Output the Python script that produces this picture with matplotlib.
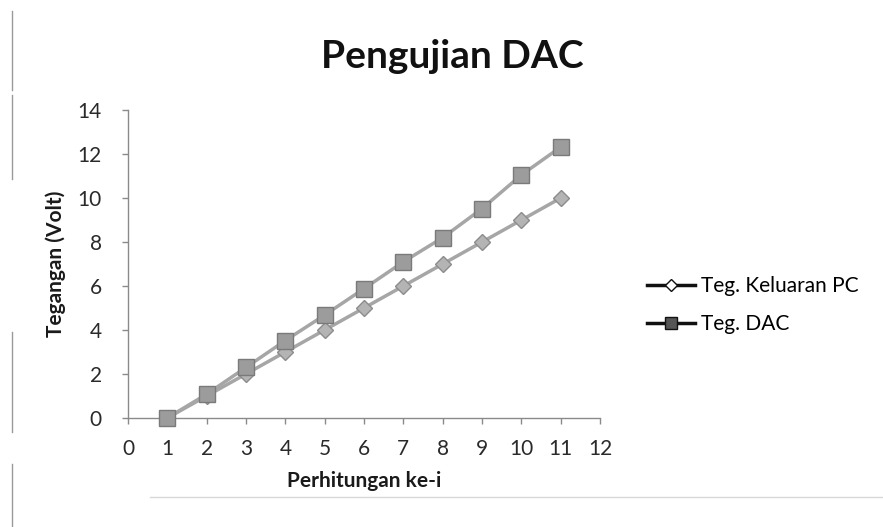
import matplotlib
matplotlib.use("Agg")
import matplotlib.pyplot as plt
from matplotlib.lines import Line2D

plt.rcParams['font.family'] = ['Lato', 'DejaVu Sans']

# measurement data
step = [1, 2, 3, 4, 5, 6, 7, 8, 9, 10, 11]
teg_pc = [0, 1, 2, 3, 4, 5, 6, 7, 8, 9, 10]
teg_dac = [0, 1.08, 2.3, 3.52, 4.68, 5.88, 7.1, 8.2, 9.52, 11.05, 12.32]

x_ticks = list(range(0, 13))
y_ticks = list(range(0, 15, 2))

fig = plt.figure(figsize=(8.83, 5.27), dpi=100)
fig.patch.set_facecolor('white')
ax = fig.add_axes([0.145, 0.207, 0.5345, 0.584])

line_col = '#a6a6a6'
ax.plot(step, teg_pc, color=line_col, linewidth=2.5, marker='D',
        markersize=8, markerfacecolor='#b4b4b4', markeredgecolor='#8c8c8c',
        markeredgewidth=1, zorder=3, clip_on=False)
ax.plot(step, teg_dac, color=line_col, linewidth=2.5, marker='s',
        markersize=12, markerfacecolor='#9c9c9c', markeredgecolor='#7a7a7a',
        markeredgewidth=1, zorder=4, clip_on=False)

ax.set_xlim(0, 12)
ax.set_ylim(0, 14)
ax.set_xticks(x_ticks)
ax.set_yticks(y_ticks)
ax.tick_params(axis='both', labelsize=15, colors='#8a8a8a', labelcolor='#2a2a2a',
               length=4, width=1)
ax.tick_params(axis='x', pad=11)
ax.tick_params(axis='y', pad=15)
for s in ['top', 'right']:
    ax.spines[s].set_visible(False)
for s in ['left', 'bottom']:
    ax.spines[s].set_color('#8a8a8a')
    ax.spines[s].set_linewidth(1)

ax.set_xlabel('Perhitungan ke-i', fontsize=15, fontweight='bold', color='#1a1a1a', labelpad=9)
ax.set_ylabel('Tegangan (Volt)', fontsize=15, fontweight='bold', color='#1a1a1a', labelpad=8)
fig.text(0.512, 0.893, 'Pengujian DAC', fontsize=28, fontweight='bold',
         color='#111111', ha='center', va='center')

# legend with dark sample lines
handles = [
    Line2D([0], [0], color='#111111', linewidth=2.5, marker='D', markersize=6,
           markerfacecolor='white', markeredgecolor='#111111', label='Teg. Keluaran PC'),
    Line2D([0], [0], color='#111111', linewidth=2.5, marker='s', markersize=9,
           markerfacecolor='#555555', markeredgecolor='#111111', label='Teg. DAC'),
]
fig.legend(handles=handles, loc='center left', bbox_to_anchor=(0.733, 0.421),
           frameon=False, fontsize=15, handlelength=2.3, handletextpad=0.3,
           labelspacing=0.85, borderaxespad=0, borderpad=0)

# scan edge marks along the left side
for y0, y1 in [(0.83, 0.98), (0.66, 0.82), (0.18, 0.37), (0.0, 0.12)]:
    fig.add_artist(Line2D([0.0135, 0.0135], [y0, y1], color='#9a9a9a', linewidth=1))
fig.add_artist(Line2D([0.17, 1.0], [0.057, 0.057], color='#d8d8d8', linewidth=1))

fig.savefig('out.png', dpi=100)
